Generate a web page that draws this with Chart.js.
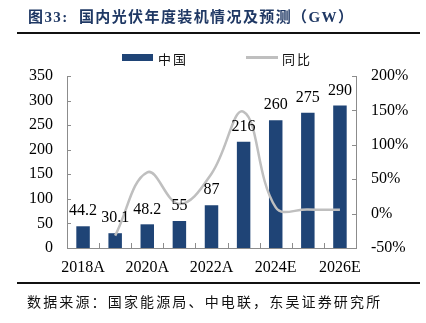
<!DOCTYPE html>
<html>
<head>
<meta charset="utf-8">
<script src="https://cdn.jsdelivr.net/npm/chart.js@4"></script>
<style>
  html, body { margin: 0; padding: 0; background: #fff; }
  #wrap { position: relative; width: 426px; height: 323px; overflow: hidden; background: #fff; }
  #chart { position: absolute; left: 0; top: 0; }
  .title { position: absolute; left: 28px; top: 5px; font: bold 15px "Liberation Serif", "Noto Sans CJK SC", serif; color: #1f3864; letter-spacing: 1.4px; white-space: nowrap; }
  .title .cn { font-family: "Noto Sans CJK SC", sans-serif; font-weight: 700; }
  .rule { position: absolute; left: 17px; width: 403px; height: 2px; background: #111; }
  .source { position: absolute; left: 27px; top: 291px; font: 14px "Noto Sans CJK SC", sans-serif; color: #111; letter-spacing: 2.15px; white-space: nowrap; }
  .legend { position: absolute; top: 49px; font: 13px "Noto Sans CJK SC", sans-serif; color: #111; letter-spacing: 2px; white-space: nowrap; }
  .sw { position: absolute; }
</style>
</head>
<body>
<div id="wrap">
  <canvas id="chart" width="426" height="323"></canvas>
  <div class="title">图33:&nbsp; <span class="cn">国内光伏年度装机情况及预测（</span>GW<span class="cn">）</span></div>
  <div class="rule" style="top:32px"></div>
  <div class="sw" style="left:122px; top:54px; width:31px; height:7px; background:#1f4476"></div>
  <div class="legend" style="left:158px">中国</div>
  <div class="sw" style="left:246px; top:56px; width:32px; height:3px; background:#bfbfbf"></div>
  <div class="legend" style="left:282px">同比</div>
  <div class="rule" style="top:282px"></div>
  <div class="source">数据来源：国家能源局、中电联，东吴证券研究所</div>
</div>
<script>
// Annual PV installations in China (GW) and year-on-year growth
const years = ['2018A', '2019A', '2020A', '2021A', '2022A', '2023A', '2024E', '2025E', '2026E'];
const installedGW = [44.2, 30.1, 48.2, 55, 87, 216, 260, 275, 290];
const yoyGrowth = [null, -0.32, 0.60, 0.14, 0.58, 1.48, 0.09, 0.06, 0.055];
const leftTicks = [0, 50, 100, 150, 200, 250, 300, 350];
const rightTicks = [-0.5, 0, 0.5, 1.0, 1.5, 2.0];

const serif = '"Liberation Serif", "Times New Roman", serif';
const axisColor = '#8c8c8c';
const BAR_INDEX = 1;

// value labels above each bar
const barLabels = {
  id: 'barLabels',
  afterDatasetsDraw(chart) {
    const meta = chart.getDatasetMeta(BAR_INDEX);
    const values = chart.data.datasets[BAR_INDEX].data;
    const ctx = chart.ctx;
    ctx.save();
    ctx.font = '16px ' + serif;
    ctx.fillStyle = '#000';
    ctx.textAlign = 'center';
    ctx.textBaseline = 'middle';
    meta.data.forEach((bar, i) => {
      ctx.fillText(String(values[i]), bar.x, bar.y - 15);
    });
    ctx.restore();
  }
};

// short tick marks pointing into the plot area
const innerTicks = {
  id: 'innerTicks',
  afterDraw(chart) {
    const ctx = chart.ctx;
    const { left, right, bottom } = chart.chartArea;
    const yL = chart.scales.y, yR = chart.scales.y1;
    ctx.save();
    ctx.strokeStyle = axisColor;
    ctx.lineWidth = 1;
    ctx.beginPath();
    yL.ticks.forEach(t => {
      const py = Math.round(yL.getPixelForValue(t.value)) + 0.5;
      ctx.moveTo(left, py); ctx.lineTo(left + 4, py);
    });
    yR.ticks.forEach(t => {
      const py = Math.round(yR.getPixelForValue(t.value)) + 0.5;
      ctx.moveTo(right, py); ctx.lineTo(right - 4, py);
    });
    const step = (right - left) / years.length;
    for (let i = 1; i < years.length; i++) {
      const px = Math.round(left + step * i) + 0.5;
      ctx.moveTo(px, bottom); ctx.lineTo(px, bottom - 5);
    }
    ctx.stroke();
    ctx.restore();
  }
};

new Chart(document.getElementById('chart'), {
  data: {
    labels: years,
    datasets: [
      {
        type: 'line',
        label: '同比',
        data: yoyGrowth,
        yAxisID: 'y1',
        borderColor: '#bfbfbf',
        borderWidth: 2.5,
        pointRadius: 0,
        tension: 0.4,
        fill: false,
        spanGaps: false,
        order: 0
      },
      {
        type: 'bar',
        label: '中国',
        data: installedGW,
        yAxisID: 'y',
        backgroundColor: '#1f4476',
        barPercentage: 0.42,
        categoryPercentage: 1,
        order: 1
      }
    ]
  },
  options: {
    responsive: false,
    animation: false,
    layout: { padding: { left: 0, right: 0, top: 76, bottom: 45 } },
    plugins: { legend: { display: false }, tooltip: { enabled: false } },
    scales: {
      x: {
        type: 'category',
        offset: true,
        grid: { display: false, drawTicks: false },
        border: { display: true, color: axisColor },
        ticks: {
          autoSkip: false, maxRotation: 0, padding: 10,
          color: '#000', font: { family: serif, size: 16 },
          callback: (v, i) => (i % 2 === 0 ? years[i] : '')
        },
        afterFit: s => { s.height = 30; }
      },
      y: {
        position: 'left',
        min: 0, max: 350,
        afterBuildTicks: s => { s.ticks = leftTicks.map(v => ({ value: v })); },
        grid: { display: false, drawTicks: false },
        border: { display: true, color: axisColor },
        ticks: { padding: 14, color: '#000', font: { family: serif, size: 16 } },
        afterFit: s => { s.width = 67; }
      },
      y1: {
        position: 'right',
        min: -0.5, max: 2.0,
        afterBuildTicks: s => { s.ticks = rightTicks.map(v => ({ value: v })); },
        grid: { display: false, drawTicks: false },
        border: { display: true, color: axisColor },
        ticks: {
          padding: 15, color: '#000', font: { family: serif, size: 16 },
          callback: v => Math.round(v * 100) + '%'
        },
        afterFit: s => { s.width = 70; }
      }
    }
  },
  plugins: [barLabels, innerTicks]
});
</script>
</body>
</html>
